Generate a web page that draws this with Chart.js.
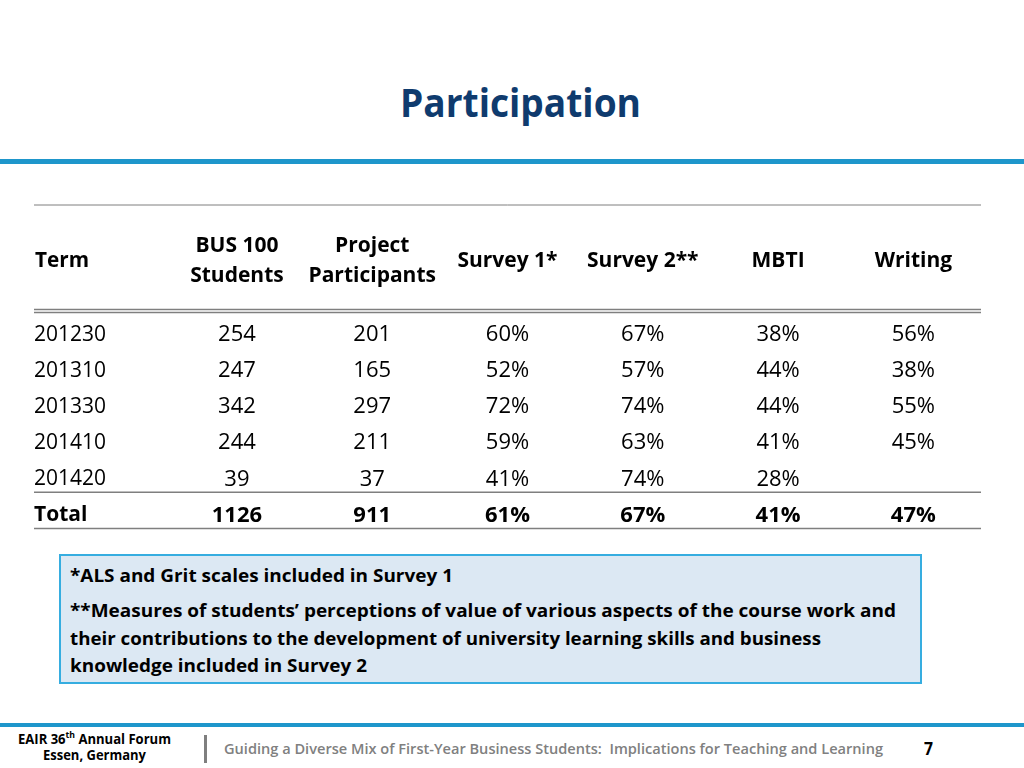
<!DOCTYPE html>
<html>
<head>
<meta charset="utf-8">
<script src="https://cdn.jsdelivr.net/npm/chart.js@4.4.1/dist/chart.umd.min.js"></script>
<style>
  body { margin: 0; width: 1024px; height: 768px; background: #fff; position: relative; overflow: hidden; font-family: 'Open Sans', sans-serif; }
  .t { position: absolute; white-space: nowrap; transform-origin: 0 50%; line-height: 1; }
  #title { color: #0f3b6e; font-weight: 700; font-size: 39px; }
  #topbar { position: absolute; left: 0; top: 159px; width: 1024px; height: 5px; background: #1e96cb; }
  #wrap { position: absolute; left: 0; top: 180px; width: 1024px; height: 366px; }
  #note { position: absolute; left: 59px; top: 554px; width: 859px; height: 126px; background: #dce8f3; border: 2px solid #36ade0; }
  .n { font-weight: 700; font-size: 18.5px; color: #000; }
  #botbar { position: absolute; left: 0; top: 723px; width: 1024px; height: 4px; background: #1e96cb; }
  #vbar { position: absolute; left: 204px; top: 735px; width: 3px; height: 28px; background: #7f7f7f; }
  .f { font-weight: 700; font-size: 13.5px; color: #000; }
  #guide { font-weight: 600; font-size: 14.5px; color: #808080; }
  #pg { font-weight: 700; font-size: 17px; color: #000; }
</style>
</head>
<body>
<div id="title" class="t">Participation</div>
<div id="topbar"></div>
<div id="wrap"><canvas id="tbl"></canvas></div>
<div id="note"></div>
<div id="n1" class="t n">*ALS and Grit scales included in Survey 1</div>
<div id="n2" class="t n">**Measures of students’ perceptions of value of various aspects of the course work and</div>
<div id="n3" class="t n">their contributions to the development of university learning skills and business</div>
<div id="n4" class="t n">knowledge included in Survey 2</div>
<div id="botbar"></div>
<div id="f1" class="t f">EAIR 36<sup style="font-size:9px">th</sup> Annual Forum</div>
<div id="f2" class="t f">Essen, Germany</div>
<div id="vbar"></div>
<div id="guide" class="t">Guiding a Diverse Mix of First-Year Business Students:&nbsp; Implications for Teaching and Learning</div>
<div id="pg" class="t">7</div>
<script>
// table data
var columns = [['BUS 100', 'Students'], ['Project', 'Participants'], 'Survey 1*', 'Survey 2**', 'MBTI', 'Writing'];
var terms = ['201230', '201310', '201330', '201410', '201420'];
var bus100 = [254, 247, 342, 244, 39];
var project = [201, 165, 297, 211, 37];
var survey1 = [60, 52, 72, 59, 41];
var survey2 = [67, 57, 74, 63, 74];
var mbti = [38, 44, 44, 41, 28];
var writing = [56, 38, 55, 45, null];
var totals = ['1126', '911', '61%', '67%', '41%', '47%'];

var rows = terms.concat(['Total']);
var colKeys = ['c0', 'c1', 'c2', 'c3', 'c4', 'c5'];

// place a text block so its left/centre and width match the slide
function place(id, x, cy, w, center) {
    var el = document.getElementById(id);
    var r = el.getBoundingClientRect();
    var k = w / r.width;
    el.style.transform = 'scaleX(' + k + ')';
    el.style.left = (center ? x - w / 2 : x) + 'px';
    el.style.top = (cy - r.height / 2) + 'px';
}
place('title', 520, 101, 241, true);
place('n1', 70, 575, 383);
place('n2', 70, 610, 826);
place('n3', 70, 638, 751);
place('n4', 70, 665, 297);
place('f1', 18, 738, 153);
place('f2', 94, 756, 103, true);
place('guide', 224, 749, 659);
place('pg', 924, 748, 9);

function pct(v) { return v == null ? null : v + '%'; }
var series = [
    bus100.map(String), project.map(String),
    survey1.map(pct), survey2.map(pct), mbti.map(pct), writing.map(pct)
];

var datasets = [];
for (var c = 0; c < series.length; c++) {
    var pts = [];
    for (var r = 0; r < terms.length; r++) {
        if (series[c][r] != null) pts.push({x: colKeys[c], y: terms[r], v: series[c][r], b: false});
    }
    pts.push({x: colKeys[c], y: 'Total', v: totals[c], b: true});
    datasets.push({data: pts, showLine: false, pointRadius: 0, pointHoverRadius: 0});
}

var cellText = {
    id: 'cellText',
    afterDatasetsDraw: function (chart) {
        var ctx = chart.ctx;
        ctx.save();
        ctx.fillStyle = '#000';
        ctx.textAlign = 'center';
        ctx.textBaseline = 'middle';
        chart.data.datasets.forEach(function (ds, i) {
            chart.getDatasetMeta(i).data.forEach(function (pt, j) {
                var d = ds.data[j];
                ctx.font = (d.b ? '700 ' : '400 ') + '22px "Open Sans"';
                ctx.fillText(d.v, pt.x, pt.y, 60);
            });
        });
        ctx.restore();
    },
    afterDraw: function (chart) {
        var ctx = chart.ctx, x = chart.scales.x, y = chart.scales.y;
        var L = y.left, R = x.right;
        ctx.save();
        // header label for the term column
        ctx.fillStyle = '#000';
        ctx.font = '700 22px "Open Sans"';
        ctx.textAlign = 'left';
        ctx.textBaseline = 'middle';
        ctx.fillText('Term', L + 1, 261 - 180, 54);
        ctx.strokeStyle = '#7f7f7f';
        function hl(yy, w) {
            ctx.lineWidth = w;
            ctx.beginPath(); ctx.moveTo(L, yy); ctx.lineTo(R, yy); ctx.stroke();
        }
        var half = (y.getPixelForValue(1) - y.getPixelForValue(0)) / 2;
        hl(x.top, 1);
        hl(y.top - 7.5, 1.5);
        hl(y.top - 4.5, 1.5);
        hl(y.getPixelForValue(4) + half - 5, 1.5);
        hl(y.bottom - 5, 1.5);
        ctx.restore();
    }
};

new Chart(document.getElementById('tbl'), {
    type: 'line',
    data: {datasets: datasets},
    options: {
        responsive: true,
        maintainAspectRatio: false,
        animation: false,
        events: [],
        layout: {padding: {top: 25, left: 34, right: 43, bottom: 7}},
        plugins: {legend: {display: false}, tooltip: {enabled: false}},
        scales: {
            x: {
                type: 'category',
                position: 'top',
                labels: colKeys,
                offset: true,
                grid: {display: false, drawTicks: false},
                border: {display: false},
                ticks: {
                    color: '#000',
                    padding: 41,
                    crossAlign: 'center',
                    font: {family: 'Open Sans', size: 21, weight: 'bold', lineHeight: 1.43},
                    callback: function (v, i) { return columns[i]; }
                },
                afterFit: function (s) { s.height = 112; }
            },
            y: {
                type: 'category',
                labels: rows,
                offset: true,
                grid: {display: false, drawTicks: false},
                border: {display: false},
                ticks: {
                    color: '#000',
                    padding: 0,
                    crossAlign: 'far',
                    font: function (c) {
                        return {family: 'Open Sans', size: 21, weight: c.tick && c.tick.label === 'Total' ? 'bold' : 'normal'};
                    }
                },
                afterFit: function (s) { s.width = 135.3; }
            }
        }
    },
    plugins: [cellText]
});
</script>
</body>
</html>
